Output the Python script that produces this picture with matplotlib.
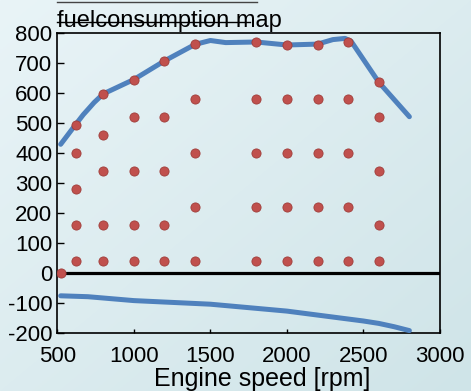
import numpy as np
import matplotlib
matplotlib.use("Agg")
import matplotlib.pyplot as plt
from matplotlib.lines import Line2D

plt.rcParams['font.family'] = ['Liberation Sans', 'DejaVu Sans']
plt.rcParams['axes.unicode_minus'] = False

# full load torque curve
wot_rpm = [522, 620, 670, 700, 740, 800, 1000, 1200, 1400, 1500, 1600, 1800, 2000, 2200, 2300, 2380, 2420, 2600, 2800]
wot_torque = [429, 495, 528, 545, 568, 597, 645, 707, 762, 775, 768, 770, 760, 763, 778, 782, 772, 636, 521]

# motoring (drag) curve
drag_rpm = [522, 700, 1000, 1500, 2000, 2500, 2600, 2700, 2800]
drag_torque = [-76, -79, -92, -104, -127, -160, -168, -179, -192]

# measured map points
pt_rpm = ([525] +
          [620] * 5 + [800] * 5 + [1000] * 5 + [1200] * 5 + [1400] * 5 +
          [1800] * 5 + [2000] * 5 + [2200] * 5 + [2400] * 5 + [2600] * 5)
pt_torque = ([0] +
             [40, 160, 280, 400, 495] +
             [40, 160, 340, 460, 597] +
             [40, 160, 340, 520, 645] +
             [40, 160, 340, 520, 707] +
             [40, 220, 400, 580, 762] +
             [40, 220, 400, 580, 770] +
             [40, 220, 400, 580, 759] +
             [40, 220, 400, 580, 761] +
             [40, 220, 400, 580, 771] +
             [40, 160, 340, 520, 636])

x_ticks = [500, 1000, 1500, 2000, 2500, 3000]
y_ticks = [-200, -100, 0, 100, 200, 300, 400, 500, 600, 700, 800]

W, H = 471, 391
fig = plt.figure(figsize=(W / 100, H / 100), dpi=100)

# gradient background
bg = fig.add_axes([0, 0, 1, 1], zorder=-10)
gx, gy = np.meshgrid(np.linspace(0, 1, 200), np.linspace(0, 1, 200))
t = (gx + gy) / 2
c1 = np.array([233, 244, 247]) / 255
c2 = np.array([207, 228, 232]) / 255
img = c1[None, None, :] * (1 - t[..., None]) + c2[None, None, :] * t[..., None]
bg.imshow(img, extent=[0, 1, 0, 1], aspect='auto', origin='upper')
bg.axis('off')

ax = fig.add_axes([57.3 / W, 1 - 333 / H, (440 - 57.3) / W, (333 - 33) / H])
ax.set_facecolor('none')

ax.axhline(0, color='black', lw=2.3, zorder=2)
ax.plot(wot_rpm, wot_torque, color='#4f81bd', lw=3.6, solid_capstyle='round', zorder=3)
ax.plot(drag_rpm, drag_torque, color='#4f81bd', lw=3.6, solid_capstyle='round', zorder=3)
ax.plot(pt_rpm, pt_torque, 'o', color='#c0504d', markeredgecolor='#a03d3a',
        markeredgewidth=0.6, markersize=6.6, zorder=4)

ax.set_xlim(500, 3000)
ax.set_ylim(-200, 800)
ax.set_xticks(x_ticks)
ax.set_yticks(y_ticks)
ax.tick_params(axis='x', direction='in', length=3, width=1, pad=9.4, labelsize=16, top=False)
ax.tick_params(axis='y', direction='in', length=5, width=1, pad=3.6, labelsize=16, right=False)
for s in ax.spines.values():
    s.set_linewidth(1.2)

fig.text(262 / W, 1 - 386 / H, 'Engine speed [rpm]', ha='center', va='baseline', fontsize=18)
fig.text(57 / W, 1 - 27 / H, 'fuelconsumption map', ha='left', va='baseline', fontsize=17)

fig.add_artist(Line2D([57 / W, 257 / W], [1 - 1.5 / H, 1 - 1.5 / H], color='#444444', lw=1))
fig.add_artist(Line2D([57 / W, 250 / W], [1 - 22 / H, 1 - 22 / H], color='black', lw=1))

fig.savefig('out.png', dpi=100)
